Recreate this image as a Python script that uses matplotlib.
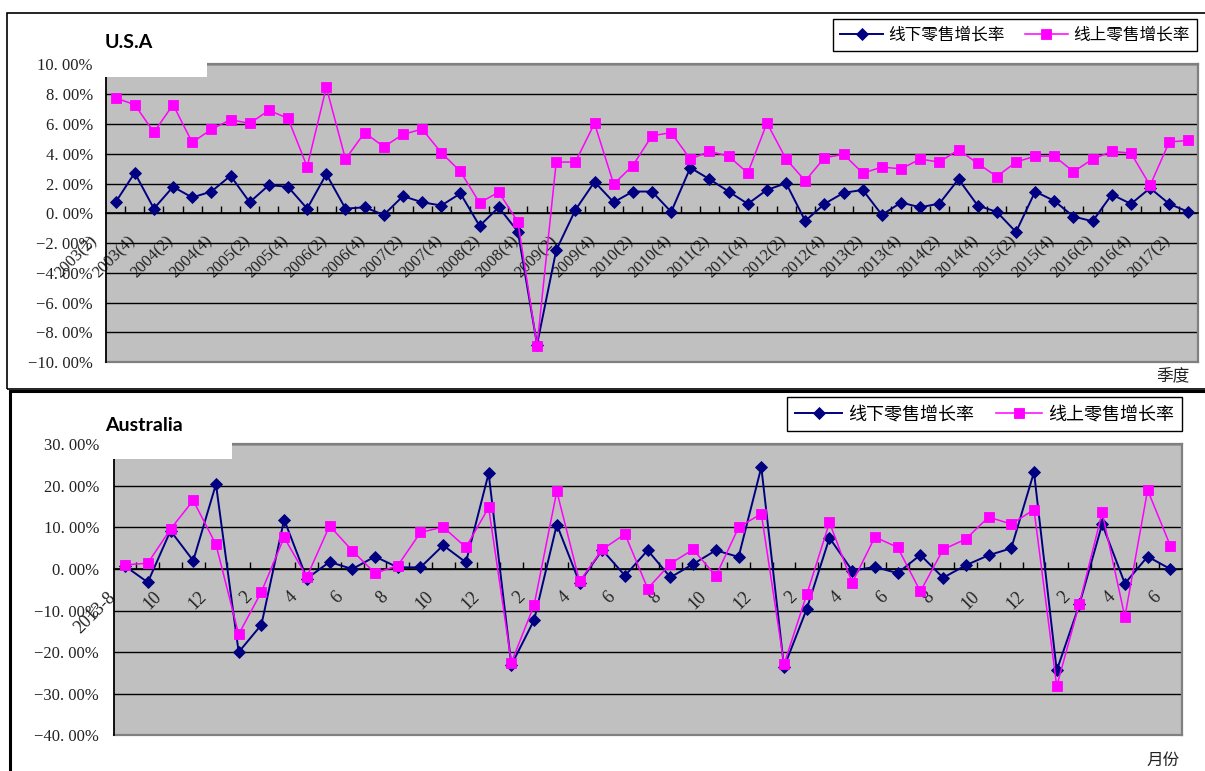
import numpy as np
import matplotlib.pyplot as plt
import matplotlib.transforms as mtransforms
from matplotlib.patches import Rectangle
from matplotlib.ticker import FuncFormatter

plt.rcParams['font.family'] = ['Noto Sans CJK SC', 'DejaVu Sans']

# quarterly categories 2003(2) .. 2017(2)
usa_quarters = []
for year in range(2003, 2018):
    for q in range(1, 5):
        if (year == 2003 and q < 2) or (year == 2017 and q > 2):
            continue
        usa_quarters.append(f'{year}({q})')

# growth rates in percent
usa_offline = [0.74, 2.72, 0.31, 1.78, 1.06, 1.46, 2.52, 0.74, 1.89, 1.78, 0.31, 2.63,
               0.31, 0.40, -0.11, 1.15, 0.74, 0.52, 1.33, -0.85, 0.40, -1.24, -8.83, -2.49,
               0.22, 2.11, 0.74, 1.46, 1.46, 0.09, 3.06, 2.29, 1.46, 0.63, 1.57, 2.02,
               -0.52, 0.63, 1.37, 1.57, -0.11, 0.72, 0.40, 0.65, 2.29, 0.52, 0.09, -1.26,
               1.46, 0.83, -0.22, -0.54, 1.26, 0.63, 1.69, 0.63, 0.09]
usa_online = [7.75, 7.30, 5.44, 7.30, 4.76, 5.64, 6.29, 6.04, 6.92, 6.38, 3.12, 8.47,
              3.64, 5.42, 4.47, 5.30, 5.66, 4.07, 2.81, 0.70, 1.42, -0.58, -8.90, 3.44,
              3.44, 6.04, 1.96, 3.21, 5.21, 5.42, 3.64, 4.16, 3.84, 2.70, 6.07, 3.64,
              2.18, 3.73, 3.96, 2.70, 3.10, 2.99, 3.64, 3.44, 4.27, 3.35, 2.47, 3.44,
              3.84, 3.84, 2.79, 3.64, 4.16, 4.04, 1.87, 4.79, 4.90]

# monthly categories 2013-8 .. 2017-6
aus_months = (['2013-8'] + [str(m) for m in range(9, 13)]
              + [str(m) for m in range(1, 13)] * 3 + [str(m) for m in range(1, 7)])
aus_offline = [0.7, -3.2, 9.2, 2.0, 20.4, -20.0, -13.4, 11.9, -2.3, 1.7, 0.0, 3.0,
               0.4, 0.4, 5.7, 1.6, 23.0, -23.1, -12.3, 10.7, -3.3, 4.6, -1.6, 4.5,
               -2.0, 1.2, 4.5, 2.9, 24.5, -23.6, -9.6, 7.5, -0.4, 0.5, -1.0, 3.4,
               -2.1, 0.9, 3.3, 5.0, 23.3, -24.4, -8.5, 10.8, -3.5, 3.0, 0.0]
aus_online = [1.0, 1.4, 9.6, 16.5, 5.9, -15.7, -5.5, 7.6, -1.9, 10.4, 4.4, -1.0,
              0.8, 8.8, 10.1, 5.2, 14.8, -22.5, -8.7, 18.7, -3.0, 4.7, 8.4, -4.7,
              1.3, 4.7, -1.7, 10.0, 13.3, -22.9, -6.1, 11.2, -3.3, 7.7, 5.2, -5.4,
              4.7, 7.2, 12.5, 10.8, 14.3, -28.2, -8.3, 13.6, -11.5, 19.0, 5.6]

NAVY = '#000080'
PINK = '#FF00FF'
W, H = 1205, 771


def pct_label(v, pos):
    return f'{v:.2f}'.replace('.', '. ').replace('-', '\u2212') + '%'


def draw_panel(ax, labels, offline, online, lo, hi, step, label_dx, label_size, ypad,
               legend_box, legend_size):
    n = len(labels)
    x = np.arange(n)
    ax.plot(x, offline, color=NAVY, lw=1.4, marker='D', ms=6.0, mec=NAVY, mew=0.6,
            zorder=3, label='线下零售增长率')
    ax.plot(x, online, color=PINK, lw=1.1, marker='s', ms=7.0, mec=PINK, mew=0.6,
            zorder=4, label='线上零售增长率')
    ax.set_xlim(-0.5, n - 0.5)
    ax.set_ylim(lo, hi)
    ax.set_facecolor('#C0C0C0')

    ax.set_yticks(np.arange(lo, hi + step / 2, step))
    ax.yaxis.set_major_formatter(FuncFormatter(pct_label))
    ax.tick_params(axis='y', length=0, pad=ypad, labelsize=12, colors='#222222')
    for t in ax.get_yticklabels():
        t.set_fontfamily('Liberation Serif')
    ax.grid(axis='y', color='black', lw=1)
    ax.set_axisbelow(True)

    # category axis sits on the zero line
    ax.spines['bottom'].set_position(('data', 0))
    ax.spines['bottom'].set_linewidth(1.2)
    ax.spines['left'].set_color('black')
    ax.spines['left'].set_linewidth(1.3)
    for side in ('top', 'right'):
        ax.spines[side].set_color('#808080')
        ax.spines[side].set_linewidth(1.6)
    ax.axhline(lo, color='#808080', lw=1.6, zorder=2.5, clip_on=False)

    ax.set_xticks(x[::2])
    ax.set_xticklabels(labels[::2])
    ax.set_xticks(x[:-1] + 0.5, minor=True)
    ax.tick_params(axis='x', which='major', length=0, pad=14, labelsize=label_size)
    ax.tick_params(axis='x', which='minor', direction='in', length=5, width=1)
    shift = mtransforms.ScaledTranslation(label_dx / 72, 0, ax.figure.dpi_scale_trans)
    for t in ax.get_xticklabels():
        t.set_fontfamily('Liberation Serif')
        t.set_rotation(45)
        t.set_ha('right')
        t.set_rotation_mode('anchor')
        t.set_color('#222222')
        t.set_transform(t.get_transform() + shift)

    leg = ax.legend(loc='upper right', bbox_to_anchor=legend_box,
                    bbox_transform=ax.figure.transFigure, ncol=2, fancybox=False,
                    framealpha=1, edgecolor='black', borderaxespad=0,
                    prop={'family': ['Noto Sans CJK SC'], 'size': legend_size},
                    handlelength=2.6, handletextpad=0.3, columnspacing=1.2,
                    borderpad=0.45)
    leg.get_frame().set_linewidth(1.0)
    leg.set_zorder(12)


fig = plt.figure(figsize=(W / 100, H / 100), dpi=100)

ax1 = fig.add_axes([106 / W, 1 - 362 / H, (1198 - 106) / W, (362 - 64.5) / H])
draw_panel(ax1, usa_quarters, usa_offline, usa_online, -10, 10, 2, -19, 12, 9.5,
           (1197 / W, 1 - 19 / H), 12)

ax2 = fig.add_axes([113.7 / W, 1 - 735.3 / H, (1181.7 - 113.7) / W, (735.3 - 444.3) / H])
draw_panel(ax2, aus_months, aus_offline, aus_online, -40, 30, 10, -13, 13, 10.5,
           (1182 / W, 1 - 397 / H), 13)

# chart frames
fig.add_artist(Rectangle((7 / W, 1 - 389 / H), 1.2, (389 - 13) / H, transform=fig.transFigure,
                         fill=False, edgecolor='black', lw=1.2, zorder=1))
fig.add_artist(Rectangle((10 / W, -0.2), 1.2, 0.2 + 1 - 391 / H, transform=fig.transFigure,
                         fill=False, edgecolor='black', lw=2.2, zorder=1))

# title boxes
fig.add_artist(Rectangle((104 / W, 1 - 77 / H), 103 / W, 26 / H, transform=fig.transFigure,
                         facecolor='white', edgecolor='none', zorder=10))
fig.add_artist(Rectangle((112 / W, 1 - 459 / H), 120 / W, 30 / H, transform=fig.transFigure,
                         facecolor='white', edgecolor='none', zorder=10))
fig.text(105 / W, 1 - 48 / H, 'U.S.A', fontfamily='Lato', fontweight='bold', fontsize=14,
         va='baseline', zorder=11)
fig.text(105 / W, 1 - 431 / H, 'Australia', fontfamily='Lato', fontweight='bold', fontsize=14,
         va='baseline', zorder=11)

fig.text(1190 / W, 1 - 384 / H, '季度', fontsize=12, ha='right', va='bottom', color='#222222')
fig.text(1180 / W, 1 - 769 / H, '月份', fontsize=12, ha='right', va='bottom', color='#222222')

fig.savefig('out.png', dpi=100)
